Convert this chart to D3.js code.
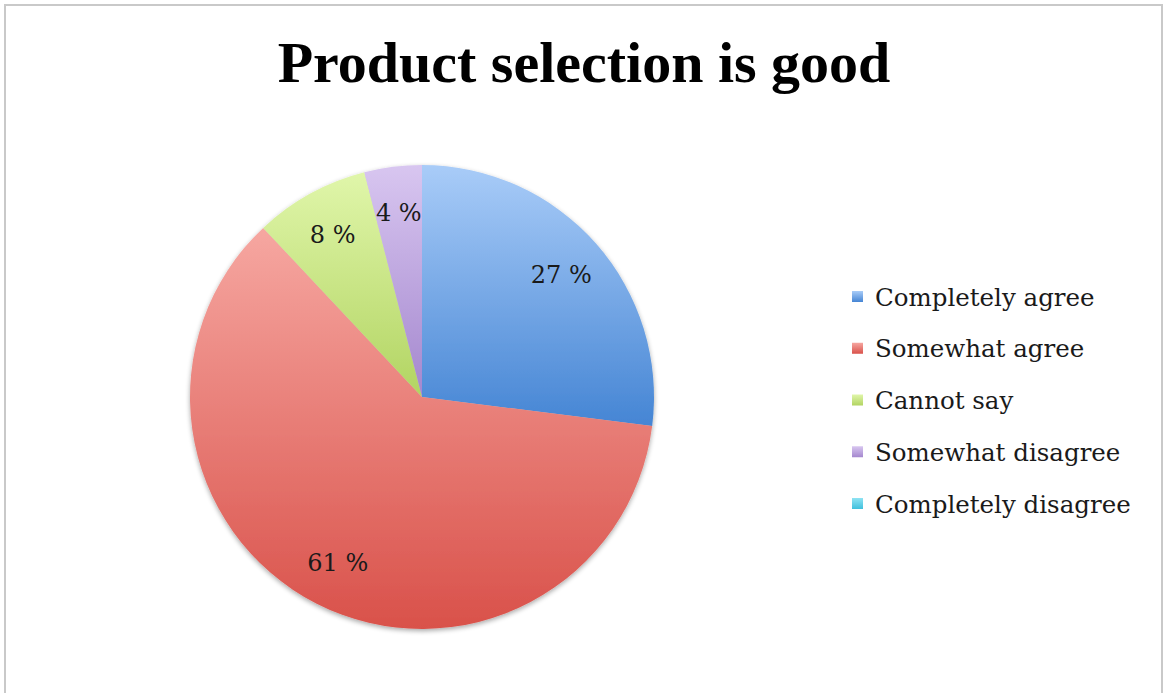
<!DOCTYPE html>
<html>
<head>
<meta charset="utf-8">
<script src="https://cdn.jsdelivr.net/npm/d3@7"></script>
<style>
  html, body { margin: 0; padding: 0; background: #fff; }
  svg { display: block; }
</style>
</head>
<body>
<svg id="chart" width="1164" height="693"></svg>
<script>
// Survey answers and their shares (percent)
const categories = ["Completely agree", "Somewhat agree", "Cannot say", "Somewhat disagree", "Completely disagree"];
const values = [27, 61, 8, 4, 0];
// Light (top) and dark (bottom) gradient stops per answer
const lightColors = ["#a9ccf8", "#f6a7a1", "#e0f6aa", "#d8c6f0", "#8fe3f3"];
const darkColors  = ["#4585d4", "#d9514a", "#b2d462", "#a487ce", "#3fc0dd"];
const title = "Product selection is good";

const width = 1164, height = 693;
const svg = d3.select("#chart");
const defs = svg.append("defs");

categories.forEach((c, i) => {
  const g = defs.append("linearGradient")
    .attr("id", "grad" + i)
    .attr("x1", 0).attr("y1", 0).attr("x2", 0).attr("y2", 1);
  g.append("stop").attr("offset", "0%").attr("stop-color", lightColors[i]);
  g.append("stop").attr("offset", "100%").attr("stop-color", darkColors[i]);
});

const shadow = defs.append("filter").attr("id", "pieShadow")
  .attr("x", "-10%").attr("y", "-10%").attr("width", "120%").attr("height", "125%");
shadow.append("feGaussianBlur").attr("in", "SourceAlpha").attr("stdDeviation", 2.5);
shadow.append("feOffset").attr("dx", 0).attr("dy", 2).attr("result", "ob");
shadow.append("feComponentTransfer").append("feFuncA").attr("type", "linear").attr("slope", 0.35);
const merge = shadow.append("feMerge");
merge.append("feMergeNode");
merge.append("feMergeNode").attr("in", "SourceGraphic");

const serif = "'DejaVu Serif', 'Liberation Serif', serif";

// Chart frame
svg.append("rect")
  .attr("x", 5).attr("y", 5)
  .attr("width", 1157).attr("height", 700)
  .attr("fill", "#fff")
  .attr("stroke", "#c9c9c9").attr("stroke-width", 2);

// Title
svg.append("text")
  .attr("x", 584).attr("y", 82)
  .attr("text-anchor", "middle")
  .attr("font-family", "'Liberation Serif', serif")
  .attr("font-weight", "bold")
  .attr("font-size", 58)
  .attr("fill", "#000")
  .text(title);

// Pie
const cx = 422, cy = 397, r = 232;
const pie = d3.pie().sort(null).value(d => d.value);
const data = pie(categories.map((c, i) => ({ name: c, value: values[i], i })));
const arc = d3.arc().innerRadius(0).outerRadius(r);
const labelArc = d3.arc().innerRadius(r * 0.8).outerRadius(r * 0.8);

const pieG = svg.append("g").attr("transform", `translate(${cx},${cy})`);
const sliceG = pieG.append("g").attr("filter", "url(#pieShadow)");
sliceG.selectAll("path")
  .data(data.filter(d => d.data.value > 0))
  .join("path")
  .attr("d", arc)
  .attr("fill", d => `url(#grad${d.data.i})`);

pieG.selectAll("text")
  .data(data.filter(d => d.data.value > 0))
  .join("text")
  .attr("transform", d => `translate(${labelArc.centroid(d)})`)
  .attr("text-anchor", "middle")
  .attr("dy", "0.35em")
  .attr("font-family", serif)
  .attr("font-size", 24)
  .attr("fill", "#1a1a1a")
  .text(d => d.data.value + " %");

// Legend
const legendY = d3.scalePoint().domain(categories).range([297, 504]);
const legend = svg.append("g");
const rows = legend.selectAll("g")
  .data(categories)
  .join("g")
  .attr("transform", c => `translate(852,${legendY(c)})`);
rows.append("rect")
  .attr("x", 0).attr("y", -6)
  .attr("width", 11).attr("height", 11)
  .attr("fill", (c, i) => `url(#grad${i})`);
rows.append("text")
  .attr("x", 23).attr("y", 0)
  .attr("dy", "0.35em")
  .attr("font-family", serif)
  .attr("font-size", 24.5)
  .attr("fill", "#1a1a1a")
  .text(c => c);
</script>
</body>
</html>
